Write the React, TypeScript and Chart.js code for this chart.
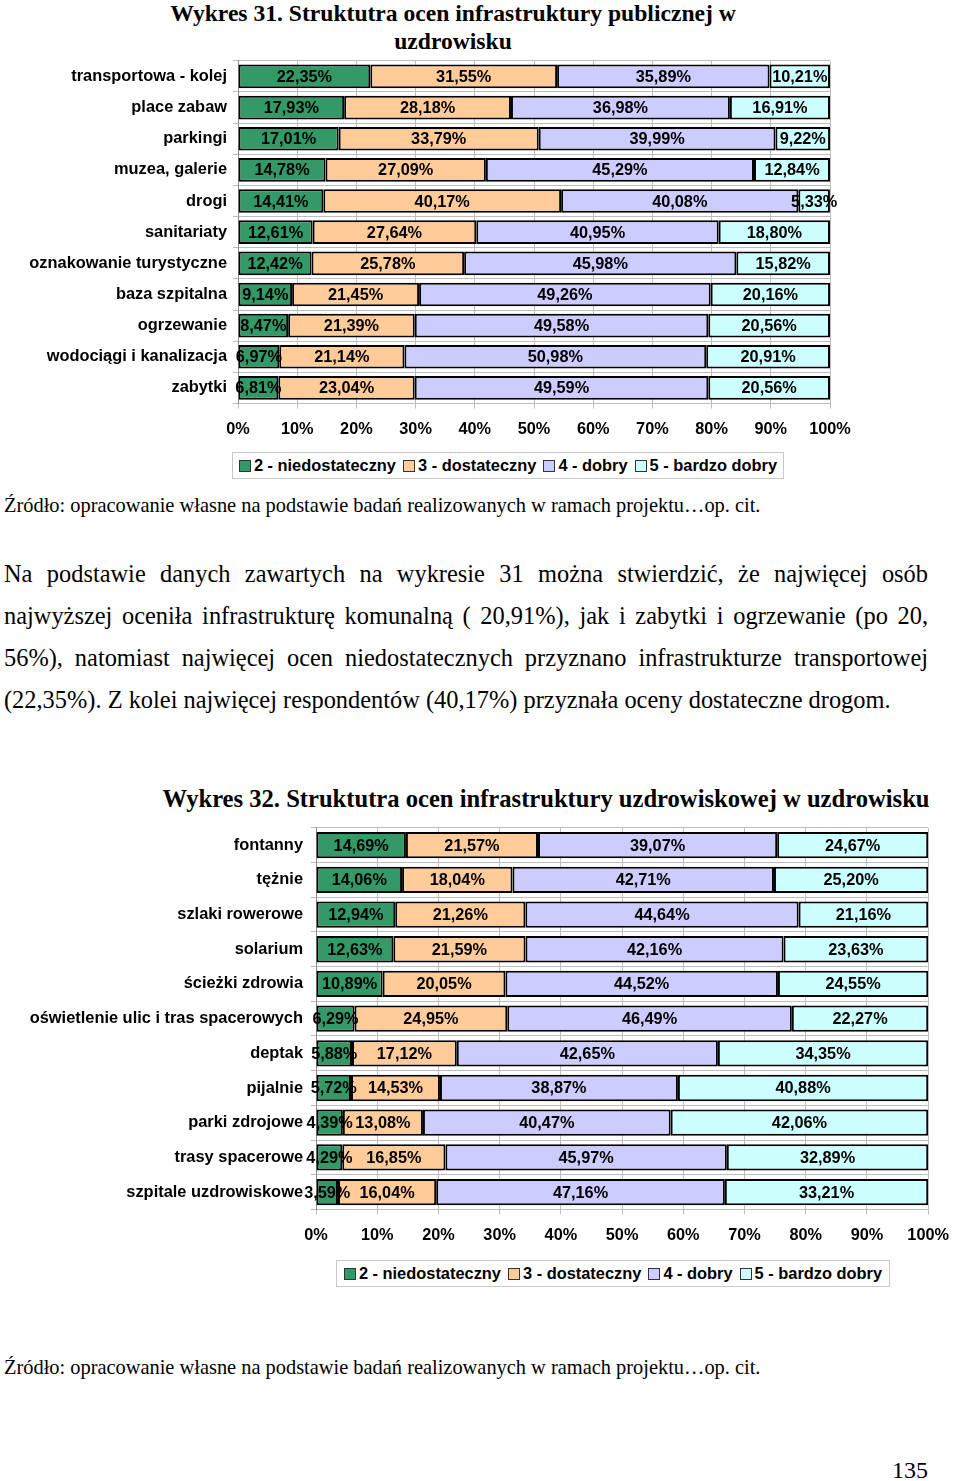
import React, { useEffect, useRef } from "react";
import { Chart, registerables } from "chart.js";

Chart.register(...registerables);

// ---------- Data ----------
const seriesNames = ["2 - niedostateczny", "3 - dostateczny", "4 - dobry", "5 - bardzo dobry"];
const seriesColors = ["#339966", "#FFCC99", "#CCCCFF", "#CCFFFF"];
const xTickLabels = ["0%", "10%", "20%", "30%", "40%", "50%", "60%", "70%", "80%", "90%", "100%"];

const categories1 = [
  "transportowa - kolej",
  "place zabaw",
  "parkingi",
  "muzea, galerie",
  "drogi",
  "sanitariaty",
  "oznakowanie turystyczne",
  "baza szpitalna",
  "ogrzewanie",
  "wodociągi i kanalizacja",
  "zabytki",
];
const niedostateczny1 = [22.35, 17.93, 17.01, 14.78, 14.41, 12.61, 12.42, 9.14, 8.47, 6.97, 6.81];
const dostateczny1 = [31.55, 28.18, 33.79, 27.09, 40.17, 27.64, 25.78, 21.45, 21.39, 21.14, 23.04];
const dobry1 = [35.89, 36.98, 39.99, 45.29, 40.08, 40.95, 45.98, 49.26, 49.58, 50.98, 49.59];
const bardzoDobry1 = [10.21, 16.91, 9.22, 12.84, 5.33, 18.8, 15.82, 20.16, 20.56, 20.91, 20.56];

const categories2 = [
  "fontanny",
  "tężnie",
  "szlaki rowerowe",
  "solarium",
  "ścieżki zdrowia",
  "oświetlenie ulic i tras spacerowych",
  "deptak",
  "pijalnie",
  "parki zdrojowe",
  "trasy spacerowe",
  "szpitale uzdrowiskowe",
];
const niedostateczny2 = [14.69, 14.06, 12.94, 12.63, 10.89, 6.29, 5.88, 5.72, 4.39, 4.29, 3.59];
const dostateczny2 = [21.57, 18.04, 21.26, 21.59, 20.05, 24.95, 17.12, 14.53, 13.08, 16.85, 16.04];
const dobry2 = [39.07, 42.71, 44.64, 42.16, 44.52, 46.49, 42.65, 38.87, 40.47, 45.97, 47.16];
const bardzoDobry2 = [24.67, 25.2, 21.16, 23.63, 24.55, 22.27, 34.35, 40.88, 42.06, 32.89, 33.21];

// ---------- Helpers ----------
const SANS = "'Liberation Sans', Arial, sans-serif";
const SERIF = "'Liberation Serif', 'Times New Roman', serif";

const fmt = (v: number) => v.toFixed(2).replace(".", ",") + "%";

const labelPlugin = {
  id: "segLabels",
  afterDatasetsDraw(chart: any) {
    const ctx = chart.ctx;
    ctx.save();
    ctx.font = `bold 16.3px ${SANS}`;
    ctx.fillStyle = "#000";
    ctx.textAlign = "center";
    ctx.textBaseline = "middle";
    chart.data.datasets.forEach((ds: any, di: number) => {
      const meta = chart.getDatasetMeta(di);
      meta.data.forEach((el: any, i: number) => {
        const cx = (el.x + el.base) / 2;
        ctx.fillText(fmt(ds.data[i]), cx, el.y + 1);
      });
    });
    ctx.restore();
  },
};

interface ChartCfg {
  categories: string[];
  series: number[][];
  yAxisWidth: number;
  padRight: number;
  padTop: number;
  padBottom: number;
  yTickPad: number;
  height: number;
}

function BarChart(props: ChartCfg) {
  const ref = useRef<HTMLCanvasElement | null>(null);
  useEffect(() => {
    if (!ref.current) return;
    const chart = new Chart(ref.current, {
      type: "bar",
      data: {
        labels: props.categories,
        datasets: props.series.map((d, i) => ({
          label: seriesNames[i],
          data: d,
          backgroundColor: seriesColors[i],
          borderColor: "#000000",
          borderWidth: 2,
          borderSkipped: false,
          barPercentage: 0.76,
          categoryPercentage: 1,
        })),
      },
      options: {
        indexAxis: "y",
        animation: false,
        responsive: false,
        maintainAspectRatio: false,
        devicePixelRatio: 1,
        layout: {
          padding: { left: 0, right: props.padRight, top: props.padTop, bottom: props.padBottom },
        },
        plugins: {
          legend: { display: false },
          tooltip: { enabled: false },
          title: { display: false },
        },
        scales: {
          x: {
            stacked: true,
            min: 0,
            max: 100,
            afterBuildTicks: (scale: any) => {
              scale.ticks = xTickLabels.map((_, i) => ({ value: i * 10 }));
            },
            ticks: {
              callback: (_v: any, i: number) => xTickLabels[i],
              font: { family: SANS, size: 16.3, weight: "bold" },
              color: "#000",
              padding: 11,
              maxRotation: 0,
            },
            grid: { color: "#bdbdbd", lineWidth: 1, drawTicks: true, tickLength: 5 },
            border: { display: false },
            afterFit: (scale: any) => {
              scale.height = 40;
            },
          },
          y: {
            stacked: true,
            ticks: {
              font: { family: SANS, size: 16.4, weight: "bold" },
              color: "#000",
              padding: props.yTickPad,
              autoSkip: false,
            },
            grid: { color: "#bdbdbd", lineWidth: 1, drawTicks: true, tickLength: 5 },
            border: { display: true, color: "#8c8c8c", width: 1 },
            afterFit: (scale: any) => {
              scale.width = props.yAxisWidth;
            },
          },
        },
      },
      plugins: [labelPlugin],
    } as any);
    return () => chart.destroy();
  }, []);
  return <canvas ref={ref} width={960} height={props.height} style={{ display: "block", width: 960, height: props.height }} />;
}

function Legend({ left, top, width }: { left: number; top: number; width: number }) {
  return (
    <div
      style={{
        position: "absolute",
        left,
        top,
        width,
        height: 27,
        boxSizing: "border-box",
        border: "1px solid #c8c8c8",
        background: "#fff",
        display: "flex",
        alignItems: "center",
        justifyContent: "center",
        fontFamily: SANS,
        fontWeight: "bold",
        fontSize: 16.4,
        whiteSpace: "nowrap",
      }}
    >
      {seriesNames.map((n, i) => (
        <span key={n} style={{ display: "inline-flex", alignItems: "center", marginRight: i < 3 ? 7 : 0 }}>
          <span
            style={{
              display: "inline-block",
              width: 10,
              height: 10,
              background: seriesColors[i],
              border: "1.5px solid #333",
              marginRight: 3,
            }}
          />
          {n}
        </span>
      ))}
    </div>
  );
}

const paraLines = [
  "Na podstawie danych zawartych na wykresie 31 można stwierdzić, że najwięcej osób",
  "najwyższej oceniła infrastrukturę komunalną ( 20,91%), jak i zabytki i ogrzewanie (po 20,",
  "56%), natomiast najwięcej ocen niedostatecznych przyznano infrastrukturze transportowej",
  "(22,35%). Z kolei najwięcej respondentów (40,17%) przyznała oceny dostateczne drogom.",
];

const sourceText = "Źródło: opracowanie własne na podstawie badań realizowanych w ramach projektu…op. cit.";

export default function App() {
  return (
    <div
      style={{
        position: "absolute",
        left: 0,
        top: 0,
        width: 960,
        height: 1481,
        background: "#fff",
        overflow: "hidden",
        color: "#000",
      }}
    >
      {/* Title 1 */}
      <div
        style={{
          position: "absolute",
          left: 103,
          top: -1,
          width: 700,
          textAlign: "center",
          fontFamily: SERIF,
          fontWeight: "bold",
          fontSize: 23.6,
          lineHeight: "28px",
        }}
      >
        Wykres 31. Struktutra ocen infrastruktury publicznej w
        <br />
        uzdrowisku
      </div>

      <div style={{ position: "absolute", left: 0, top: 44.5 }}>
        <BarChart
          categories={categories1}
          series={[niedostateczny1, dostateczny1, dobry1, bardzoDobry1]}
          yAxisWidth={238}
          padRight={130}
          padTop={4}
          padBottom={6.5}
          yTickPad={6}
          height={405.5}
        />
      </div>
      <Legend left={232} top={452} width={552} />

      <div
        style={{
          position: "absolute",
          left: 4,
          top: 494,
          fontFamily: SERIF,
          fontSize: 20.4,
          lineHeight: "22px",
          whiteSpace: "nowrap",
        }}
      >
        {sourceText}
      </div>

      {/* Paragraph */}
      {paraLines.map((l, i) => (
        <div
          key={i}
          style={{
            position: "absolute",
            left: 4,
            top: 574 - 21 + i * 42,
            width: i < 3 ? 924 : undefined,
            whiteSpace: i < 3 ? "normal" : "nowrap",
            textAlign: "justify",
            textAlignLast: i < 3 ? "justify" : "left",
            fontFamily: SERIF,
            fontSize: 24.4,
            lineHeight: "42px",
          }}
        >
          {l}
        </div>
      ))}

      {/* Title 2 */}
      <div
        style={{
          position: "absolute",
          left: 96,
          top: 785,
          width: 900,
          textAlign: "center",
          fontFamily: SERIF,
          fontWeight: "bold",
          fontSize: 24.6,
          lineHeight: "28px",
          whiteSpace: "nowrap",
        }}
      >
        Wykres 32. Struktutra ocen infrastruktury uzdrowiskowej w uzdrowisku
      </div>

      <div style={{ position: "absolute", left: 0, top: 810 }}>
        <BarChart
          categories={categories2}
          series={[niedostateczny2, dostateczny2, dobry2, bardzoDobry2]}
          yAxisWidth={316}
          padRight={24}
          padTop={4}
          padBottom={5.6}
          yTickPad={8}
          height={445}
        />
      </div>
      <Legend left={336} top={1260} width={554} />

      <div
        style={{
          position: "absolute",
          left: 4,
          top: 1356,
          fontFamily: SERIF,
          fontSize: 20.4,
          lineHeight: "22px",
          whiteSpace: "nowrap",
        }}
      >
        {sourceText}
      </div>

      <div
        style={{
          position: "absolute",
          left: 870,
          top: 1456,
          width: 58,
          textAlign: "right",
          fontFamily: SERIF,
          fontSize: 24,
          lineHeight: "28px",
        }}
      >
        135
      </div>
    </div>
  );
}
